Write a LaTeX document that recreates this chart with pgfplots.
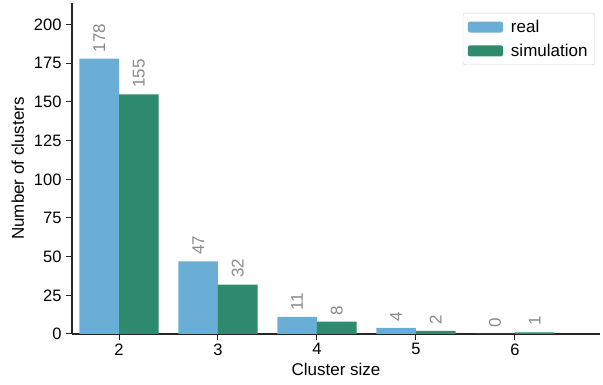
\documentclass[border=0pt]{standalone}
\usepackage{pgfplots}
\pgfplotsset{compat=1.18}
\usepackage{fontspec}
\setmainfont{Liberation Sans}
\definecolor{realc}{HTML}{6AAED6}
\definecolor{simc}{HTML}{2E8B6D}
\definecolor{lblc}{HTML}{8A8A8A}
\definecolor{axc}{HTML}{262626}
\begin{document}
\begin{tikzpicture}
\useasboundingbox (-72pt,-51pt) rectangle (531pt,334pt);
\begin{axis}[
  at={(0,0)}, anchor=south west,
  scale only axis, width=528pt, height=331pt,
  xmin=-0.475, xmax=4.86, ymin=0, ymax=214,
  ybar=0pt, bar width=39.6pt,
  axis x line*=bottom, axis y line*=left,
  axis line style={axc, line width=1.2pt},
  xtick={0,1,2,3,4}, xticklabels={2,3,4,5,6},
  ytick={0,25,50,75,100,125,150,175,200},
  tick style={axc, line width=1pt},
  tick align=outside, major tick length=6pt,
  ticklabel style={font=\fontsize{16.5}{18}\selectfont, text=black},
  yticklabel style={xshift=-1pt},
  /pgf/number format/assume math mode=true,
  xlabel={Cluster size}, ylabel={Number of clusters},
  label style={font=\fontsize{17}{19}\selectfont},
  xlabel style={yshift=-1pt}, ylabel style={yshift=3pt},
  legend style={at={(0.99,0.97)}, anchor=north east, draw=black!18, rounded corners=2pt,
    font=\fontsize{17}{19}\selectfont, inner xsep=5pt, inner ysep=5pt, row sep=6pt, column sep=6pt},
  legend cell align=left,
  legend image code/.code={\fill[#1] (0pt,-5.5pt) rectangle (35pt,5.5pt);},
  nodes near coords,
  every node near coord/.append style={rotate=90, anchor=west, text=lblc, font=\fontsize{17}{19}\selectfont, xshift=3pt},
]
\addplot[fill=realc, draw=none] coordinates {(0,178) (1,47) (2,11) (3,4) (4,0)};
\addlegendentry{real}
\addplot[fill=simc, draw=none] coordinates {(0,155) (1,32) (2,8) (3,2) (4,1)};
\addlegendentry{simulation}
\end{axis}
\end{tikzpicture}
\end{document}
